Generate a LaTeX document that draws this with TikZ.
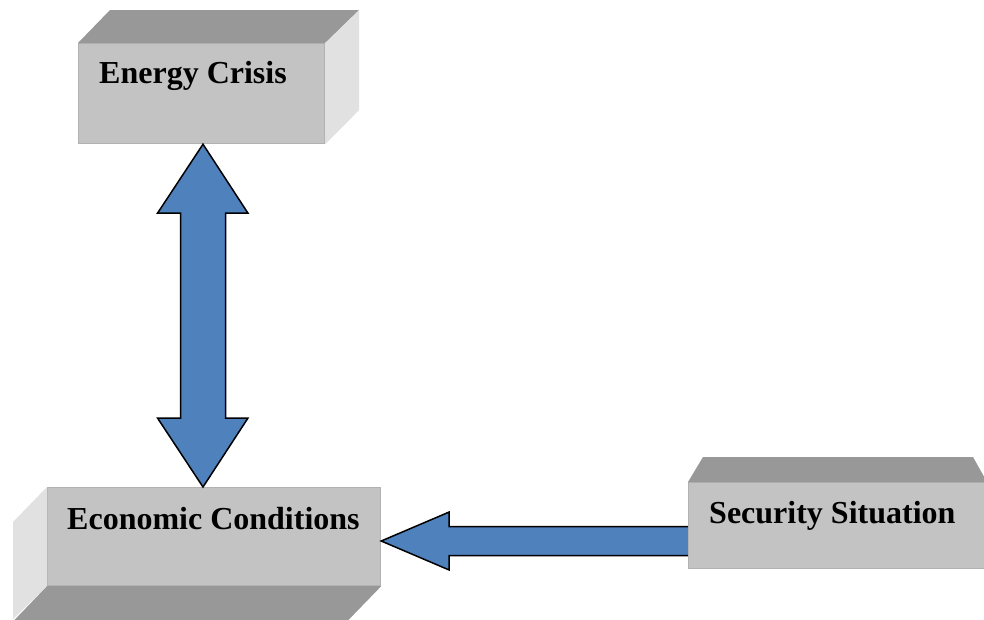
\documentclass[tikz,border=0pt]{standalone}
\usepackage{fontspec}
\setmainfont{Liberation Serif}
\usetikzlibrary{calc}
\definecolor{frontc}{RGB}{195,195,195}
\definecolor{frontedge}{RGB}{178,178,178}
\definecolor{topc}{RGB}{152,152,152}
\definecolor{sidec}{RGB}{225,225,225}
\definecolor{arrowc}{RGB}{79,129,189}
\tikzset{
  frontface/.style={fill=frontc, draw=frontedge, line width=1.2pt, inner sep=0pt, anchor=north west},
  topface/.style={fill=topc, draw=none},
  sideface/.style={fill=sidec, draw=none},
  lbl/.style={font=\fontsize{32}{38}\selectfont\bfseries, inner sep=0pt, anchor=base west},
  blockarrow/.style={fill=arrowc, draw=black, line width=1.5pt, line join=miter},
}
\begin{document}
\begin{tikzpicture}[x=1pt,y=-1pt]
\useasboundingbox (0,0) rectangle (984,619);
% Energy Crisis box
\node[frontface, minimum width=246pt, minimum height=100pt] (energy) at (78,43) {};
\fill[topface] (energy.north west) -- ++(32,-33) -- ($(energy.north east)+(34,-33)$) -- (energy.north east) -- cycle;
\fill[sideface] (energy.north east) -- ++(34,-33) -- ++(0,100) -- (energy.south east) -- cycle;
\node[lbl] (energyT) at (99,83) {Energy Crisis};
% Economic Conditions box
\node[frontface, minimum width=333pt, minimum height=98pt] (econ) at (47,487) {};
\fill[sideface] (econ.north west) -- ++(-34,35) -- ++(0,97) -- (econ.south west) -- cycle;
\fill[topface] (econ.south west) -- (econ.south east) -- ++(-33,34) -- ++(-334,0) -- cycle;
\node[lbl] (econT) at (67,529) {Economic Conditions};
% coordinates for arrows
\coordinate (vx) at (203,0);
\coordinate (hy) at (0,541);
\coordinate (t1) at (energy.south -| vx);
\coordinate (t2) at (econ.north -| vx);
% vertical double arrow
\draw[blockarrow] (t1) -- ++(45,69) -- ++(-22.5,0) -- ($(t2)+(22.5,-69)$) -- ++(22.5,0) -- (t2)
  -- ++(-45.5,-69) -- ++(23,0) -- ($(t1)+(-22.5,69)$) -- ++(-23,0) -- cycle;
% Security Situation box
\coordinate (secNW) at (688,482);
\coordinate (h1) at (econ.east |- hy);
\coordinate (h2) at (secNW |- hy);
\draw[blockarrow] (h1) -- ++(68,-29) -- ++(0,14.5) -- ($(h2)+(4,-14.5)$) -- ++(0,29) -- ($(h1)+(68,14.5)$) -- ++(0,14.5) -- cycle;
\node[frontface, minimum width=302pt, minimum height=86pt] (sec) at (secNW) {};
\fill[topface] (sec.north west) -- ++(15,-25) -- ++(270,0) -- ($(sec.north west)+(299,0)$) -- cycle;
\node[lbl] (secT) at (709,523) {Security Situation};
\end{tikzpicture}
\end{document}
